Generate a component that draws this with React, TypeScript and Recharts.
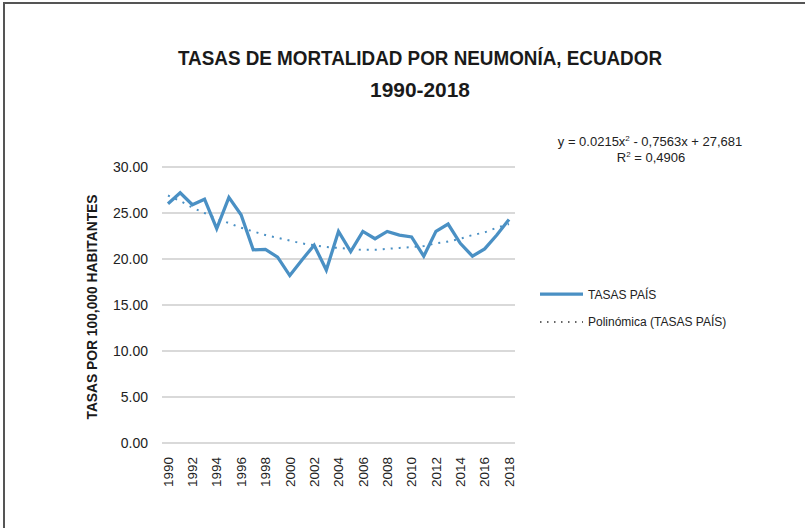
import React from 'react';
import { LineChart, Line, XAxis, YAxis, CartesianGrid } from 'recharts';

const years = [
  '1990', '1991', '1992', '1993', '1994', '1995', '1996', '1997', '1998', '1999',
  '2000', '2001', '2002', '2003', '2004', '2005', '2006', '2007', '2008', '2009',
  '2010', '2011', '2012', '2013', '2014', '2015', '2016', '2017', '2018',
];

const tasasPais = [
  26.0, 27.2, 25.9, 26.5, 23.3, 26.7, 24.8, 21.0, 21.05, 20.2,
  18.2, 19.9, 21.5, 18.8, 23.0, 20.8, 23.0, 22.2, 23.0, 22.6,
  22.4, 20.3, 23.0, 23.8, 21.7, 20.3, 21.1, 22.6, 24.3,
];

// polynomial trendline
const tendencia = [
  26.9, 26.3, 25.6, 25.0, 24.4, 23.9, 23.4, 23.0, 22.6, 22.3,
  22.0, 21.7, 21.5, 21.3, 21.2, 21.1, 21.0, 21.0, 21.1, 21.2,
  21.3, 21.4, 21.7, 21.9, 22.2, 22.6, 22.9, 23.4, 23.8,
];

const yTicks = [0, 5, 10, 15, 20, 25, 30];

const BLUE = '#4a90c4';
const FONT = '"Liberation Sans", Arial, Helvetica, sans-serif';

const data = years.map((y, i) => ({
  year: y,
  tasas: tasasPais[i],
  trend: tendencia[i],
}));

const YearTick = (props: any) => {
  const { x, y, payload } = props;
  return (
    <text
      x={x}
      y={y + 6}
      transform={`rotate(-90 ${x} ${y + 6})`}
      textAnchor="end"
      dy="0.35em"
      fontSize={13.5}
      fontFamily={FONT}
      fill="#222"
    >
      {payload.value}
    </text>
  );
};

export default function App() {
  return (
    <div style={{ position: 'relative', width: 805, height: 528, background: '#fff' }}>
      <style>{'body{margin:0}'}</style>
      <div
        style={{
          position: 'absolute',
          left: 3,
          top: 2,
          width: 802,
          height: 526,
          borderTop: '2px solid #555',
          borderLeft: '2px solid #555',
          boxSizing: 'border-box',
        }}
      />
      <svg width={805} height={528} style={{ position: 'absolute', left: 0, top: 0 }}>
        <text x={420} y={65} textAnchor="middle" fontSize={20} fontWeight="bold" fontFamily={FONT} fill="#1a1a1a" textLength={484} lengthAdjust="spacingAndGlyphs">
          TASAS DE MORTALIDAD POR NEUMONÍA, ECUADOR
        </text>
        <text x={420} y={97} textAnchor="middle" fontSize={20} fontWeight="bold" fontFamily={FONT} fill="#1a1a1a" textLength={100} lengthAdjust="spacingAndGlyphs">
          1990-2018
        </text>
        <text x={650} y={146} textAnchor="middle" fontSize={13} fontFamily={FONT} fill="#222">
          y = 0.0215x<tspan fontSize={8} dy={-5}>2</tspan><tspan dy={5}> - 0,7563x + 27,681</tspan>
        </text>
        <text x={651} y={162} textAnchor="middle" fontSize={13} fontFamily={FONT} fill="#222">
          R<tspan fontSize={8} dy={-5}>2</tspan><tspan dy={5}> = 0,4906</tspan>
        </text>
        <text
          x={97}
          y={307}
          transform="rotate(-90 97 307)"
          textAnchor="middle"
          fontSize={14}
          fontWeight="bold"
          fontFamily={FONT}
          fill="#1a1a1a"
          textLength={225}
          lengthAdjust="spacingAndGlyphs"
        >
          TASAS POR 100,000 HABITANTES
        </text>
        {/* legend */}
        <line x1={540} y1={294} x2={583} y2={294} stroke={BLUE} strokeWidth={3.25} />
        <text x={588} y={299} fontSize={12} fontFamily={FONT} fill="#222">TASAS PAÍS</text>
        <line x1={540} y1={322} x2={583} y2={322} stroke="#333" strokeWidth={1.5} strokeDasharray="1.5 5.5" />
        <text x={588} y={326} fontSize={12} fontFamily={FONT} fill="#222">Polinómica (TASAS PAÍS)</text>
      </svg>
      <div style={{ position: 'absolute', left: 0, top: 0 }}>
        <LineChart
          width={805}
          height={528}
          data={data}
          margin={{ top: 167, right: 290, bottom: 40, left: 82 }}
        >
          <CartesianGrid vertical={false} stroke="#cccccc" strokeWidth={1.5} />
          <XAxis
            dataKey="year"
            interval={1}
            tick={<YearTick />}
            tickLine={false}
            axisLine={false}
            height={45}
            padding={{ left: 6, right: 6 }}
          />
          <YAxis
            domain={[0, 30]}
            ticks={yTicks}
            tickFormatter={(v: number) => v.toFixed(2)}
            tick={{ fontSize: 14, fontFamily: FONT, fill: '#222' }}
            tickLine={false}
            axisLine={false}
            tickMargin={8}
            width={80}
          />
          <Line
            type="linear"
            dataKey="tasas"
            stroke={BLUE}
            strokeWidth={3.25}
            dot={false}
            isAnimationActive={false}
          />
          <Line
            type="monotone"
            dataKey="trend"
            stroke={BLUE}
            strokeWidth={2}
            strokeDasharray="2 6"
            strokeLinecap="butt"
            dot={false}
            isAnimationActive={false}
          />
        </LineChart>
      </div>
    </div>
  );
}
